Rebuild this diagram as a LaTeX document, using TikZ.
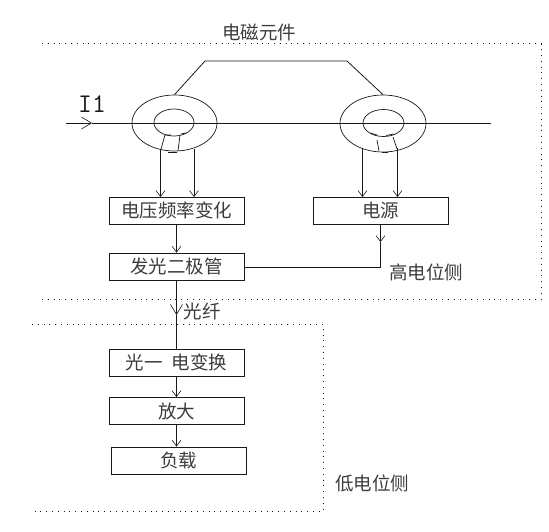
\documentclass[tikz,border=0pt]{standalone}
\usepackage{fontspec}
\setmainfont{Noto Sans CJK SC}
\usetikzlibrary{shapes.geometric, arrows.meta, positioning, calc}
\definecolor{ink}{RGB}{25, 25, 25}
\definecolor{script}{RGB}{60, 60, 60}

\begin{document}
\begin{tikzpicture}[x=1pt, y=-1pt, line width=0.8pt, color=ink,
            box/.style={draw=ink, text=script, minimum width=135pt, minimum height=27pt, inner sep=0pt, align=center, font=\fontsize{18.5}{20}\selectfont},
            tag/.style={inner sep=0pt, text=script, font=\fontsize{18.5}{20}\selectfont},
            ring/.style={draw=ink, ellipse, inner sep=0pt, line width=0.7pt},
            feed/.style={-{Straight Barb[length=6pt, width=9pt, line width=0.6pt]}},
            widefeed/.style={-{Straight Barb[length=10pt, width=12pt, line width=0.6pt]}},
            sep/.style={line width=0.8pt, dash pattern=on 0.8pt off 5pt}
        ]
            \useasboundingbox (0,0) rectangle (549,531);
            % boxes
            \node[box] (vf) at (176.5,210.5) {电压频率变化};
            \node[box] (led) at (176.5,266.5) {发光二极管};
            \node[box] (src) at (380.5,210.5) {电源};
            \node[box] (conv) at (176.5,362.5) {光一\hspace{9pt}电变换};
            \node[box] (amp) at (176.5,411) {放大};
            \node[box] (load) at (178.5,460.5) {负载};
            % labels
            \node[tag] (title) at (259,32) {电磁元件};
            \node[tag] (high) at (426,272) {高电位侧};
            \node[tag] (fiber) at (202,311) {光纤};
            \node[tag] (low) at (372,483) {低电位侧};
            \node[inner sep=0pt, font=\ttfamily\fontsize{27}{28}\selectfont] (cur) at (92,104) {I1};
            % separators
            \draw[sep] (42,43.5) -- (541,43.5) -- (541,299) -- (42,299);
            \draw[sep] (32,324) -- (323,324) -- (323,511) -- (32,511);
            % cores
            \node[ring, minimum width=85pt, minimum height=56pt] (coreA) at (174.5,123) {};
            \node[ring, minimum width=86pt, minimum height=57pt] (coreB) at (383,123.5) {};
            \node[ring, minimum width=40pt, minimum height=27pt] (holeA) at (174,122.5) {};
            \node[ring, minimum width=41pt, minimum height=27pt] (holeB) at (383.5,123) {};
            % conductor
            \coordinate (inL) at (66,123);
            \coordinate (inM) at (92,123);
            \coordinate (inR) at (491,123);
            \draw[widefeed] (inL) -- (inM);
            \draw (inM) -- (inR);
            % link over the cores
            \coordinate (linkL) at (205,61);
            \coordinate (linkR) at (347,61);
            \draw (coreA.north) -- (linkL) -- (linkR) -- (coreB.north);
            % windings
            \draw[line width=0.7pt] (165,135) -- (161,149) (180,135) -- (178,151) (165,135) -- (171,135) (181,134) -- (186,133) (168,152.5) -- (177,152.5);
            \draw[line width=0.7pt] (377,140) -- (379,151) (393,137) -- (397,149) (370,133) -- (377,135) (386,135.5) -- (394,134) (382,152.5) -- (388,152.5);
            % tappings
            \draw[feed] (160.5,149) -- (160.5,197);
            \draw[feed] (194,149) -- (194,197);
            \draw[feed] (362.5,148) -- (362.5,197);
            \draw[feed] (397.5,148) -- (397.5,197);
            % signal path
            \draw[feed] (vf) -- (led);
            \coordinate (srcTip) at (380.5,242);
            \coordinate (srcTurn) at (380.5,267);
            \draw[feed] (src) -- (srcTip);
            \draw (srcTip) -- (srcTurn) -- (led.east |- srcTurn);
            \coordinate (fiberMid) at (176.5,315);
            \draw[widefeed] (led) -- (fiberMid);
            \draw (fiberMid) -- (conv);
            \draw[feed] (conv.south) -- (amp.north);
            \draw[feed] (amp.south) -- (amp.south |- load.north);
        \end{tikzpicture}
\end{document}
